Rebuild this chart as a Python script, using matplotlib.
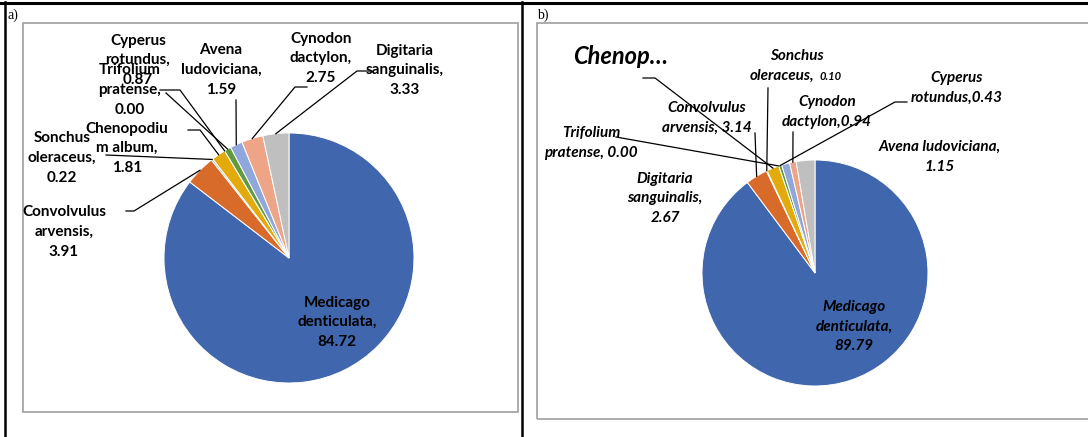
import matplotlib
matplotlib.use('Agg')
import matplotlib.pyplot as plt
from matplotlib.patches import Rectangle
import numpy as np

W, H = 1088, 437

# species in slice order (clockwise from 12 o'clock)
species = ['Medicago\ndenticulata', 'Convolvulus\narvensis', 'Sonchus\noleraceus',
           'Chenopodium\nalbum', 'Trifolium\npratense', 'Cyperus\nrotundus',
           'Avena\nludoviciana', 'Cynodon\ndactylon', 'Digitaria\nsanguinalis']
values_a = [84.72, 3.91, 0.22, 1.81, 0.00, 0.87, 1.59, 2.75, 3.33]
values_b = [89.79, 3.14, 0.10, 1.78, 0.00, 0.43, 1.15, 0.94, 2.67]
colors = ['#4066ad', '#d86b2a', '#a5a5a5', '#e2ab0b', '#5b9bd5',
          '#5f9a3f', '#8fa7da', '#eea587', '#bfbfbf']

# label text as shown in the picture
labels_a = ['Medicago\ndenticulata,\n84.72', 'Convolvulus\narvensis,\n3.91',
            'Sonchus\noleraceus,\n0.22', 'Chenopodiu\nm album,\n1.81',
            'Trifolium\npratense,\n0.00', 'Cyperus\nrotundus,\n0.87',
            'Avena\nludoviciana,\n1.59', 'Cynodon\ndactylon,\n2.75',
            'Digitaria\nsanguinalis,\n3.33']
labels_b = ['Medicago\ndenticulata,\n89.79', 'Convolvulus\narvensis, 3.14',
            None, 'Chenop…', 'Trifolium\npratense, 0.00',
            'Cyperus\nrotundus,0.43', 'Avena ludoviciana,\n1.15',
            'Cynodon\ndactylon,0.94', 'Digitaria\nsanguinalis,\n2.67']

# label centres (pixel coords, y down) and leader line start points
pos_a = [(337, 322), (64, 232), (62, 158), (127, 148), (130, 90),
         (138, 60), (221, 70), (321, 58), (405, 70)]
lead_a = {1: [(126, 211), (134, 211)], 2: [(106, 155)], 3: [(188, 130), (200, 130)],
          4: [(160, 90), (180, 90)], 5: [(166, 93)], 6: [(236, 100)],
          7: [(307, 87), (295, 87)], 8: [(370, 71), (357, 71)]}
pos_b = [(854, 327), (707, 118), None, (621, 57), (591, 143),
         (957, 88), (940, 157), (827, 112), (665, 198)]
lead_b = {1: [(755, 133)], 2: [(768, 88)], 3: [(643, 78), (655, 78)],
          4: [(616, 137)], 5: [(907, 102), (895, 102)], 7: [(793, 132)]}

fam = ['Lato', 'DejaVu Sans']
fs = 11
ls = 1.5

fig = plt.figure(figsize=(W / 100, H / 100), dpi=100)
ax = fig.add_axes([0, 0, 1, 1])


def Y(y):
    return H - y


def draw_pie(vals, cx, cy, r):
    wedges, _ = ax.pie(vals, colors=colors, startangle=90, counterclock=False,
                       center=(cx, Y(cy)), radius=r, frame=True,
                       wedgeprops=dict(edgecolor='white', linewidth=0.7))
    return wedges


def edge_point(w):
    th = np.deg2rad((w.theta1 + w.theta2) / 2)
    return (w.center[0] + w.r * np.cos(th), w.center[1] + w.r * np.sin(th))


# table lines and chart boxes
ax.plot([0, W], [Y(3), Y(3)], color='black', lw=2.2)
ax.plot([5, 5], [Y(2), Y(H)], color='black', lw=1.8)
ax.plot([522, 522], [Y(2), Y(H)], color='black', lw=1.8)
ax.add_patch(Rectangle((23, Y(412)), 495, 389, fill=False, ec='#a6a6a6', lw=1.3))
ax.add_patch(Rectangle((537, Y(419)), 560, 396, fill=False, ec='#a6a6a6', lw=1.3))
ax.text(7, Y(15), 'a)', family=['Liberation Serif', 'DejaVu Serif'], fontsize=10, va='center')
ax.text(537, Y(15), 'b)', family=['Liberation Serif', 'DejaVu Serif'], fontsize=10, va='center')

# panel a
wa = draw_pie(values_a, 289, 258, 125)
for i, lab in enumerate(labels_a):
    x, y = pos_a[i]
    ax.text(x, Y(y), lab, ha='center', va='center', multialignment='center',
            family=fam, fontweight='bold', fontsize=fs, linespacing=ls)
    if i in lead_a:
        pts = [(px, Y(py)) for px, py in lead_a[i]] + [edge_point(wa[i])]
        xs, ys = zip(*pts)
        ax.plot(xs, ys, color='black', lw=0.9)

# panel b
wb = draw_pie(values_b, 815, 273, 113)
for i, lab in enumerate(labels_b):
    if i in lead_b:
        pts = [(px, Y(py)) for px, py in lead_b[i]] + [edge_point(wb[i])]
        xs, ys = zip(*pts)
        ax.plot(xs, ys, color='black', lw=0.9)
    if lab is None:
        continue
    x, y = pos_b[i]
    ax.text(x, Y(y), lab, ha='center', va='center', multialignment='center',
            family=fam, fontweight='bold', style='italic',
            fontsize=17 if i == 3 else fs, linespacing=ls)

# Sonchus label in b has a smaller value
ax.text(797, Y(56), 'Sonchus', ha='center', va='center', family=fam,
        fontweight='bold', style='italic', fontsize=fs)
ax.text(814, Y(76), 'oleraceus,', ha='right', va='center', family=fam,
        fontweight='bold', style='italic', fontsize=fs)
ax.text(820, Y(76), '%.2f' % values_b[2], ha='left', va='center', family=fam,
        fontweight='bold', style='italic', fontsize=8)

ax.set_aspect('auto')
ax.set_xlim(0, W)
ax.set_ylim(0, H)
ax.axis('off')

fig.savefig('out.png', dpi=100)
